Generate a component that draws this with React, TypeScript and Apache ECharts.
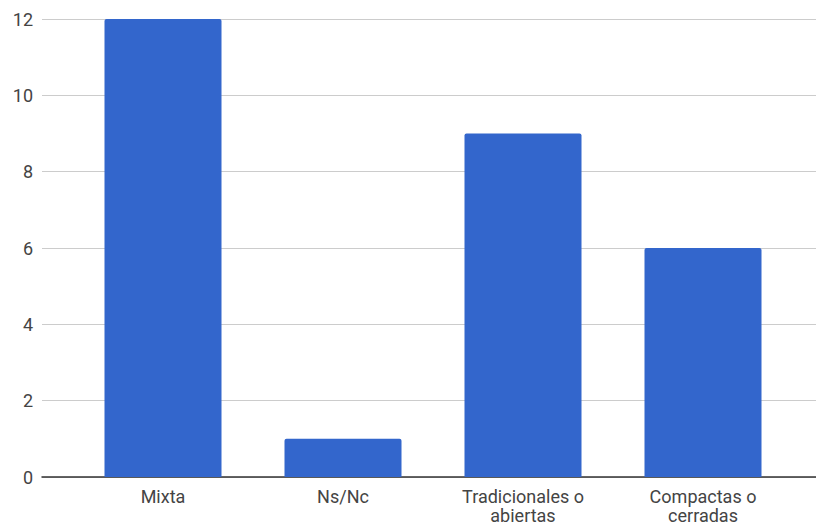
import React, { useEffect, useRef } from "react";
import * as echarts from "echarts";

const categories = ["Mixta", "Ns/Nc", "Tradicionales o\nabiertas", "Compactas o\ncerradas"];
const values = [12, 1, 9, 6];
const yTicks = { min: 0, max: 12, interval: 2 };

export default function App() {
  const ref = useRef<HTMLDivElement>(null);
  useEffect(() => {
    if (!ref.current) return;
    const chart = echarts.init(ref.current, null, { renderer: "svg" });
    chart.setOption({
      animation: false,
      textStyle: { fontFamily: "Roboto" },
      grid: [
        { left: 42, right: 0, top: 19, bottom: 49 },
        { left: 73, right: 23, top: 19, bottom: 49 },
      ],
      xAxis: [
        {
          gridIndex: 0,
          type: "value",
          min: 0,
          max: 1,
          axisLine: { show: true, lineStyle: { color: "#333", width: 1.5 } },
          axisTick: { show: false },
          axisLabel: { show: false },
          splitLine: { show: false },
        },
        {
          gridIndex: 1,
          type: "category",
          data: categories,
          axisLine: { show: false },
          axisTick: { show: false },
          axisLabel: {
            color: "#444",
            fontSize: 18,
            lineHeight: 19,
            margin: 10,
            interval: 0,
            fontFamily: "Roboto",
          },
        },
      ],
      yAxis: [
        {
          gridIndex: 0,
          type: "value",
          min: yTicks.min,
          max: yTicks.max,
          interval: yTicks.interval,
          axisLine: { show: false },
          axisTick: { show: false },
          axisLabel: { color: "#444", fontSize: 18, margin: 9, fontFamily: "Roboto" },
          splitLine: { lineStyle: { color: "#cccccc", width: 1 } },
        },
        {
          gridIndex: 1,
          type: "value",
          min: yTicks.min,
          max: yTicks.max,
          interval: yTicks.interval,
          show: false,
          splitLine: { show: false },
        },
      ],
      series: [
        {
          type: "bar",
          xAxisIndex: 1,
          yAxisIndex: 1,
          data: values,
          barWidth: "65%",
          itemStyle: { color: "#3366cc", borderRadius: [2, 2, 0, 0] },
        },
      ],
    });
    return () => chart.dispose();
  }, []);
  return (
    <div
      ref={ref}
      style={{ position: "fixed", left: 0, top: 0, width: 816, height: 526, background: "#fff" }}
    />
  );
}
